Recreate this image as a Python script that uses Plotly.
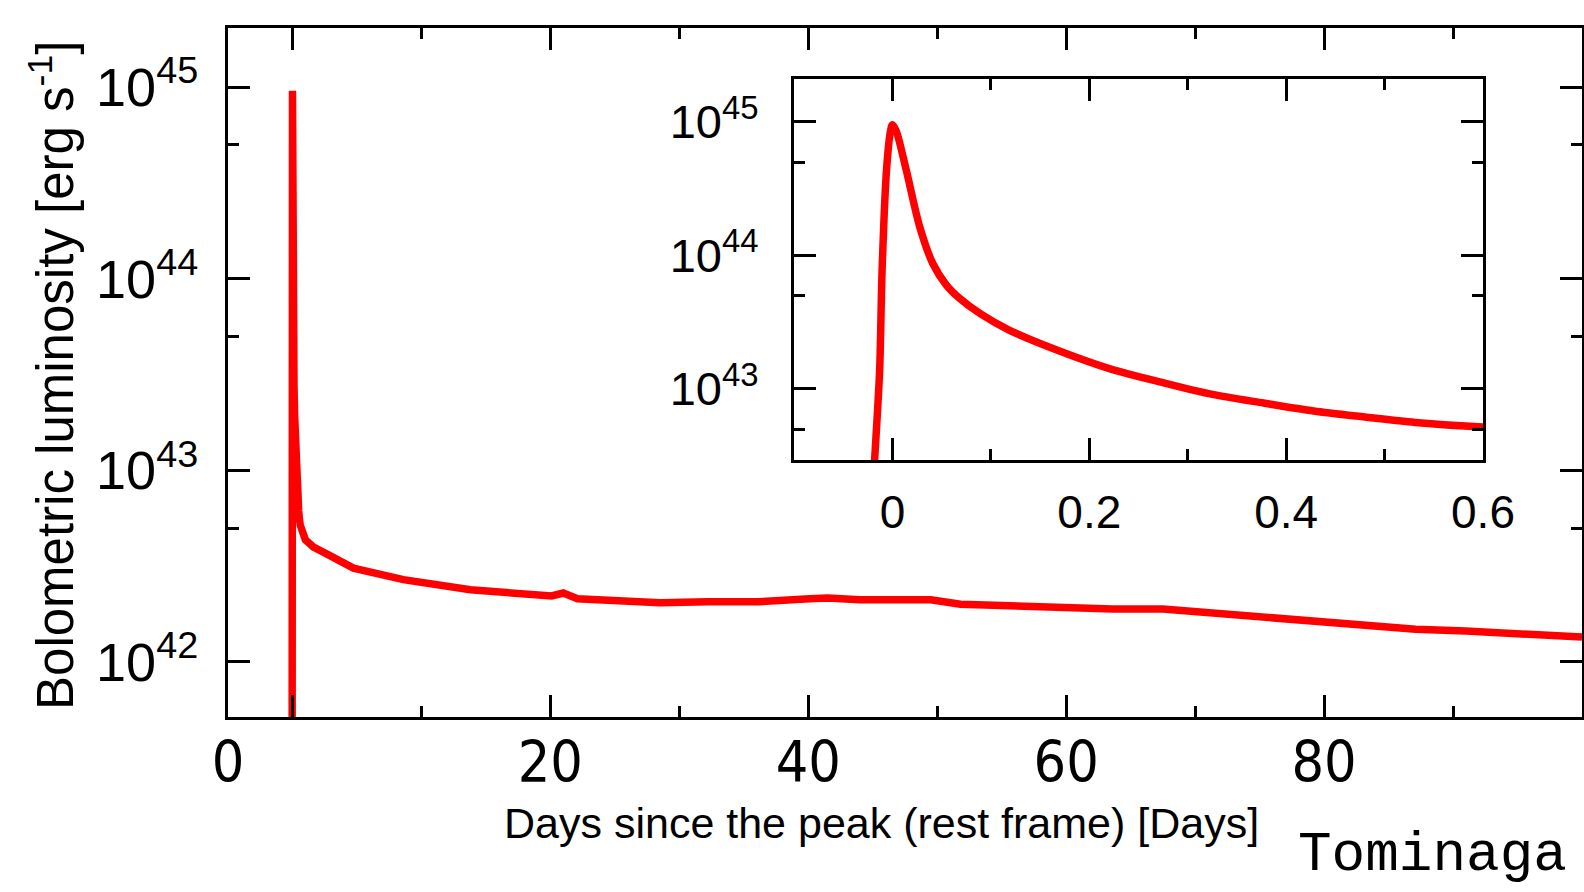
import plotly.graph_objects as go

# ---- data ----
days = [-0.03, -0.018, -0.013, -0.0105, -0.006, -0.002, 0.0, 0.004, 0.014, 0.0275,
        0.041, 0.0546, 0.068, 0.09, 0.119, 0.171, 0.222, 0.274, 0.325, 0.377, 0.428, 0.48,
        0.531, 0.6, 1.0, 1.63, 2.5, 4.73, 8.6, 13.8, 20.1, 21.0, 22.1, 28.5,
        32.2, 36.1, 40.1, 41.5, 44.0, 47.9, 49.5, 51.8, 55.7, 59.6,
        63.6, 67.5, 71.4, 75.3, 79.2, 83.2, 87.1, 91.0, 94.9, 100.0]
luminosity = [1.0e41, 3.02e42, 1.38e43, 7.76e43, 4.37e44, 8.51e44, 9.55e44, 8.51e44, 4.37e44, 1.66e44,
              8.71e43, 6.03e43, 4.79e43, 3.63e43, 2.75e43, 1.91e43, 1.41e43, 1.12e43, 9.12e42, 7.85e42,
              6.84e42, 6.17e42, 5.62e42, 5.19e42, 4.34e42, 3.98e42, 3.71e42, 3.09e42, 2.69e42, 2.38e42,
              2.21e42, 2.29e42, 2.14e42, 2.04e42,
              2.06e42, 2.06e42, 2.14e42, 2.16e42, 2.11e42, 2.09e42, 2.11e42, 2.00e42, 1.95e42, 1.91e42,
              1.89e42, 1.89e42, 1.80e42, 1.74e42, 1.66e42, 1.55e42, 1.48e42, 1.45e42, 1.40e42, 1.35e42]

main_x_range = [-5, 100]
main_x_tickvals = [-5, 0, 20, 40, 60, 80]
main_x_ticktext = ["0", "", "20", "40", "60", "80"]
main_x_minor = [10, 30, 50, 70, 90]

main_y_range_log = [41.713, 45.308]
inset_x_range = [-0.1, 0.6]
inset_x_tickvals = [0, 0.2, 0.4, 0.6]
inset_x_ticktext = ["0", "0.2", "0.4", "0.6"]
inset_x_minor = [0.1, 0.3, 0.5]
inset_y_range_log = [42.468, 45.322]

main_y_tickvals = [1e42, 1e43, 1e44, 1e45]
main_y_ticktext = ["10<sup>42</sup>", "10<sup>43</sup>", "10<sup>44</sup>", "10<sup>45</sup>"]
main_y_minor = [5e42, 5e43, 5e44]
inset_y_tickvals = [1e43, 1e44, 1e45]
inset_y_ticktext = ["10<sup>43</sup>", "10<sup>44</sup>", "10<sup>45</sup>"]
inset_y_minor = [5e42, 5e43, 5e44]

x_title = "Days since the peak (rest frame) [Days]"
y_title = "Bolometric luminosity [erg s<sup>-1</sup>]"
credit = "Tominaga"

W, H = 1584, 892
RED = "#ff0000"
SANS = "Liberation Sans, Arial, Helvetica, sans-serif"
NARROW = "Liberation Sans Narrow, Arial Narrow, DejaVu Sans Condensed, sans-serif"
MONO = "Liberation Mono, DejaVu Sans Mono, monospace"

fig = go.Figure()
fig.add_trace(go.Scatter(x=days, y=luminosity, mode="lines",
                         line=dict(color=RED, width=7.5), xaxis="x", yaxis="y",
                         showlegend=False, hoverinfo="skip"))
fig.add_trace(go.Scatter(x=days, y=luminosity, mode="lines",
                         line=dict(color=RED, width=7.5, shape="spline", smoothing=0.8),
                         xaxis="x2", yaxis="y2", showlegend=False, hoverinfo="skip"))

# plot areas in pixels
mx0, mx1, my0, my1 = 228, 1582, 28, 717
ix0, ix1, iy0, iy1 = 794, 1483, 79, 460

axis_common = dict(showline=True, linecolor="black", linewidth=3, mirror="ticks",
                   ticks="inside", tickcolor="black", tickwidth=2.5, ticklen=22,
                   showgrid=False, zeroline=False, automargin=False)
minor_common = dict(tickmode="array", ticks="inside", ticklen=11, tickwidth=2.5,
                    tickcolor="black", showgrid=False)

fig.update_layout(
    width=W, height=H, autosize=False,
    margin=dict(l=0, r=0, t=0, b=0, pad=0, autoexpand=False),
    paper_bgcolor="white", plot_bgcolor="rgba(0,0,0,0)",
    xaxis=dict(domain=[mx0 / W, mx1 / W], range=main_x_range, anchor="y",
               tickmode="array", tickvals=main_x_tickvals, ticktext=main_x_ticktext,
               tickfont=dict(family=NARROW, size=57, color="black"),
               minor=dict(tickvals=main_x_minor, **minor_common),
               ticklabelstandoff=-6,
               **axis_common),
    yaxis=dict(domain=[1 - my1 / H, 1 - my0 / H], type="log", range=main_y_range_log,
               anchor="x", tickmode="array", tickvals=main_y_tickvals, ticktext=main_y_ticktext,
               tickfont=dict(family=SANS, size=54, color="black"),
               minor=dict(tickvals=main_y_minor, **minor_common),
               ticklabelstandoff=16,
               **axis_common),
    xaxis2=dict(domain=[ix0 / W, ix1 / W], range=inset_x_range, anchor="y2",
                tickmode="array", tickvals=inset_x_tickvals, ticktext=inset_x_ticktext,
                tickfont=dict(family=SANS, size=46, color="black"),
                minor=dict(tickvals=inset_x_minor, **minor_common),
                ticklabelstandoff=10,
                **axis_common),
    yaxis2=dict(domain=[1 - iy1 / H, 1 - iy0 / H], type="log", range=inset_y_range_log,
                anchor="x2", tickmode="array", tickvals=inset_y_tickvals, ticktext=inset_y_ticktext,
                tickfont=dict(family=SANS, size=47, color="black"),
                minor=dict(tickvals=inset_y_minor, **minor_common),
                ticklabelstandoff=23,
                **axis_common),
)

fig.add_annotation(text=x_title, xref="paper", yref="paper",
                   x=882 / W, y=1 - 823 / H, xanchor="center", yanchor="middle",
                   showarrow=False, font=dict(family=SANS, size=43, color="black"))
fig.add_annotation(text=y_title, xref="paper", yref="paper", textangle=-90,
                   x=52 / W, y=1 - 376 / H, xanchor="center", yanchor="middle",
                   showarrow=False, font=dict(family=SANS, size=51, color="black"))
fig.add_annotation(text=credit, xref="paper", yref="paper",
                   x=1432 / W, y=1 - 855 / H, xanchor="center", yanchor="middle",
                   showarrow=False, font=dict(family=MONO, size=56, color="black"))

fig.write_html("out.html")
